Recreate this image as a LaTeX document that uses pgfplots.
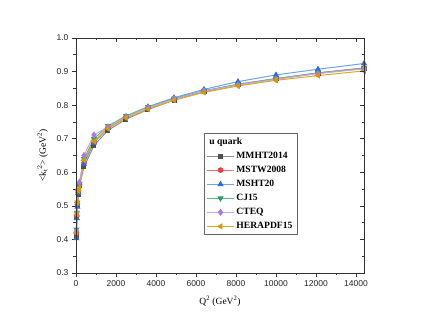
\documentclass[border=0pt]{standalone}
\usepackage{fontspec}
\setmainfont{Liberation Serif}
\setsansfont{Liberation Sans}
\usepackage{pgfplots}
\pgfplotsset{compat=1.18}
\usetikzlibrary{calc}

\definecolor{cMMHT}{HTML}{505050}
\definecolor{lMMHT}{HTML}{8C8C8C}
\definecolor{cMSTW}{HTML}{F03C3C}
\definecolor{lMSTW}{HTML}{F47070}
\definecolor{cMSHT}{HTML}{2A6FDB}
\definecolor{lMSHT}{HTML}{6FA3EC}
\definecolor{cCJ}{HTML}{2E9E62}
\definecolor{lCJ}{HTML}{5CB684}
\definecolor{cCTEQ}{HTML}{A97BE0}
\definecolor{lCTEQ}{HTML}{C7A6EE}
\definecolor{cHERA}{HTML}{D49A00}
\definecolor{lHERA}{HTML}{DDAA22}

\pgfplotsset{
  base/.style={
    scale only axis, width=288pt, height=235pt,
    xmin=0, xmax=14400, ymin=0.3, ymax=1.0,
    scaled x ticks=false, scaled y ticks=false,
    xtick={0,2000,...,14000}, minor x tick num=1,
    ytick={0.3,0.4,...,1.0}, minor y tick num=1,
    axis line style={line width=0.8pt, black!80},
    major tick length=4pt, minor tick length=2.5pt,
    every tick/.style={line width=0.7pt, black!80},
  },
}

\begin{document}
\begin{tikzpicture}
\begin{axis}[base,
  tick align=outside, xtick pos=left, ytick pos=left,
  /pgf/number format/assume math mode=true,
  tick label style={font=\sffamily\fontsize{8.5}{10}\selectfont, black!85},
  xticklabel style={/pgf/number format/1000 sep={}},
  yticklabel style={/pgf/number format/.cd, fixed, fixed zerofill, precision=1},
  xlabel={Q\textsuperscript{2} (GeV\textsuperscript{2})},
  ylabel={<k$_{\mathrm{t}}^{\,2}$> (GeV\textsuperscript{2})},
  label style={font=\fontsize{9.5}{11}\selectfont},
  xlabel style={yshift=-3pt},
  ylabel style={yshift=2pt},
  legend cell align=left,
  legend style={at={(rel axis cs:0.444,0.596)}, anchor=north west,
    font=\bfseries\fontsize{9.6}{11}\selectfont, draw=black!60, line width=0.6pt,
    row sep=2.2pt, inner sep=2.5pt},
  legend image code/.code={
    \draw[#1, mark repeat=2, mark phase=2] plot coordinates {(0cm,0cm) (0.47cm,0cm) (0.94cm,0cm)};},
  every axis plot/.append style={line width=1pt, mark size=2.3pt},
]
\addlegendimage{empty legend}
\addlegendentry{\hspace*{-27pt}u quark}

\addplot[color=lMMHT, mark=square*, mark size=2pt, mark options={fill=cMMHT, draw=cMMHT}] coordinates {
(20,0.410) (45,0.465) (70,0.500) (110,0.535) (170,0.560) (400,0.616) (900,0.680)
(1600,0.725) (2500,0.758) (3600,0.787) (4900,0.815) (6400,0.840) (8100,0.860)
(10000,0.878) (12100,0.895) (14400,0.910)};
\addlegendentry{MMHT2014}

\addplot[color=lMSTW, mark=*, mark options={fill=cMSTW, draw=cMSTW}] coordinates {
(20,0.420) (45,0.470) (70,0.505) (110,0.540) (170,0.565) (400,0.628) (900,0.690)
(1600,0.733) (2500,0.765) (3600,0.792) (4900,0.818) (6400,0.842) (8100,0.862)
(10000,0.879) (12100,0.896) (14400,0.911)};
\addlegendentry{MSTW2008}

\addplot[color=lMSHT, mark=triangle*, mark size=2.6pt, mark options={fill=cMSHT, draw=cMSHT}] coordinates {
(20,0.403) (45,0.463) (70,0.497) (110,0.538) (170,0.567) (400,0.625) (900,0.688)
(1600,0.732) (2500,0.766) (3600,0.795) (4900,0.822) (6400,0.847) (8100,0.870)
(10000,0.890) (12100,0.907) (14400,0.924)};
\addlegendentry{MSHT20}

\addplot[color=lCJ, mark=triangle*, mark size=2.6pt, mark options={rotate=180, fill=cCJ, draw=cCJ}] coordinates {
(20,0.430) (45,0.480) (70,0.510) (110,0.545) (170,0.565) (400,0.640) (900,0.700)
(1600,0.738) (2500,0.768) (3600,0.795) (4900,0.820) (6400,0.843) (8100,0.862)
(10000,0.879) (12100,0.896) (14400,0.910)};
\addlegendentry{CJ15}

\addplot[color=lCTEQ, mark=diamond*, mark size=2.8pt, mark options={fill=cCTEQ, draw=cCTEQ}] coordinates {
(20,0.425) (45,0.480) (70,0.510) (110,0.550) (170,0.570) (400,0.650) (900,0.711)
(1600,0.735) (2500,0.765) (3600,0.792) (4900,0.818) (6400,0.842) (8100,0.860)
(10000,0.877) (12100,0.894) (14400,0.908)};
\addlegendentry{CTEQ}

\addplot[color=lHERA, mark=triangle*, mark size=2.6pt, mark options={rotate=90, fill=cHERA, draw=cHERA}] coordinates {
(20,0.420) (45,0.475) (70,0.510) (110,0.545) (170,0.553) (400,0.636) (900,0.692)
(1600,0.730) (2500,0.762) (3600,0.788) (4900,0.815) (6400,0.838) (8100,0.857)
(10000,0.874) (12100,0.888) (14400,0.902)};
\addlegendentry{HERAPDF15}
\end{axis}

\begin{axis}[base,
  tick align=inside, xtick pos=right, ytick pos=right,
  xticklabels={}, yticklabels={},
]
\end{axis}

\path[use as bounding box] ($(current axis.south west)+(-76pt,-54pt)$)
  rectangle ($(current axis.north east)+(59pt,38pt)$);
\end{tikzpicture}
\end{document}
